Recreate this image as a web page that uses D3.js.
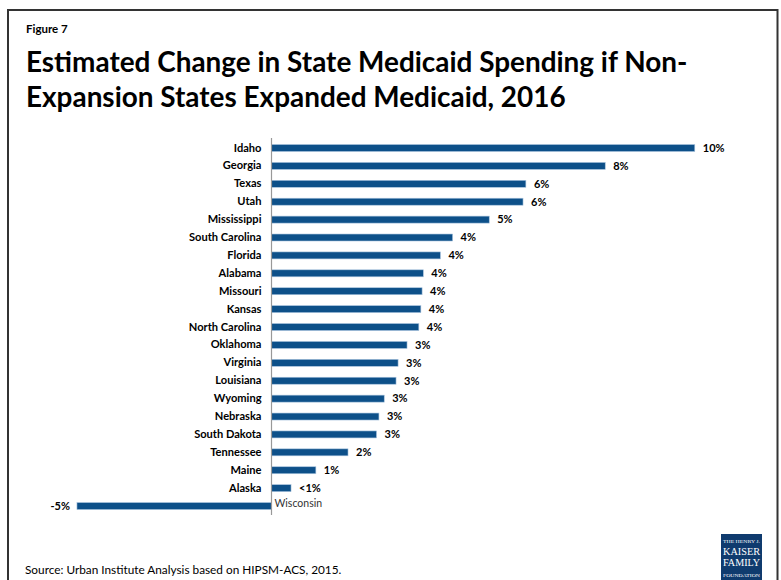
<!DOCTYPE html>
<html>
<head>
<meta charset="utf-8">
<script src="https://cdn.jsdelivr.net/npm/d3@7"></script>
<style>
  html, body { margin: 0; padding: 0; background: #fff; }
  svg { display: block; }
  text { font-family: Lato, "Open Sans", sans-serif; }
</style>
</head>
<body>
<div id="chart"></div>
<script>
const states = ["Idaho","Georgia","Texas","Utah","Mississippi","South Carolina","Florida","Alabama","Missouri","Kansas","North Carolina","Oklahoma","Virginia","Louisiana","Wyoming","Nebraska","South Dakota","Tennessee","Maine","Alaska","Wisconsin"];
const values = [10.4,8.2,6.25,6.18,5.35,4.45,4.15,3.73,3.70,3.67,3.62,3.33,3.11,3.06,2.77,2.64,2.58,1.88,1.09,0.48,-4.78];
const valueLabels = ["10%","8%","6%","6%","5%","4%","4%","4%","4%","4%","4%","3%","3%","3%","3%","3%","3%","2%","1%","<1%","-5%"];
const xDomain = [-6, 12];

const W = 781, H = 580;
const barColor = "#0d5089";

const svg = d3.select("#chart").append("svg").attr("width", W).attr("height", H);

// frame
svg.append("rect").attr("x", 8).attr("y", 10).attr("width", 769.5).attr("height", 600)
  .attr("fill", "none").attr("stroke", "#333").attr("stroke-width", 2);

// titles
svg.append("text").attr("x", 26).attr("y", 33).attr("font-size", 11.5).attr("font-weight", "bold").attr("fill", "#000").text("Figure 7");
const t1 = svg.append("text").attr("x", 26).attr("y", 72).attr("font-size", 26).attr("font-weight", "bold").attr("fill", "#000")
  .text("Estimated Change in State Medicaid Spending if Non-");
const t2 = svg.append("text").attr("x", 26).attr("y", 107).attr("font-size", 26).attr("font-weight", "bold").attr("fill", "#000")
  .text("Expansion States Expanded Medicaid, 2016");
const w1 = t1.node().getComputedTextLength();
const fs = 26 * 662 / w1;
t1.attr("font-size", fs); t2.attr("font-size", fs);

const x = d3.scaleLinear().domain(xDomain).range([271.5 - 6*40.7, 271.5 + 12*40.7]);
const y = d3.scaleBand().domain(states).range([139.05, 515]).paddingInner(0.61).paddingOuter(0.305);

const g = svg.append("g");

g.selectAll("rect.bar").data(states).join("rect").attr("class", "bar")
  .attr("x", (d,i) => Math.min(x(0), x(values[i])))
  .attr("width", (d,i) => Math.abs(x(values[i]) - x(0)))
  .attr("y", d => y(d))
  .attr("height", y.bandwidth())
  .attr("fill", barColor)
  .attr("stroke", "#a9c4de").attr("stroke-width", 0.6);

// axis
const yAxis = d3.axisLeft(y).tickSize(0).tickPadding(10);
const ag = svg.append("g").attr("transform", `translate(${x(0)},0)`).call(yAxis);
ag.select(".domain").attr("stroke", "#999").attr("stroke-width", 1.2)
  .attr("d", `M0,138V515`);
ag.selectAll(".tick").attr("transform", d => `translate(0,${y(d) + y.bandwidth()/2})`);
ag.selectAll(".tick text")
  .attr("font-family", "Lato, 'Open Sans', sans-serif")
  .attr("font-size", 11.1)
  .attr("font-weight", "bold")
  .attr("fill", "#000")
  .each(function(d) {
    const i = states.indexOf(d);
    if (values[i] < 0) {
      d3.select(this).attr("text-anchor", "start").attr("x", 3).attr("dy", "0.05em")
        .attr("font-weight", "normal").attr("fill", "#333").attr("font-size", 10.5);
    }
  });

// value labels
g.selectAll("text.val").data(states).join("text").attr("class", "val")
  .attr("x", (d,i) => values[i] >= 0 ? x(values[i]) + 8 : x(values[i]) - 7)
  .attr("y", d => y(d) + y.bandwidth()/2)
  .attr("dy", "0.35em")
  .attr("text-anchor", (d,i) => values[i] >= 0 ? "start" : "end")
  .attr("font-size", 11).attr("font-weight", "bold").attr("fill", "#000")
  .text((d,i) => valueLabels[i]);

// source
svg.append("text").attr("x", 25).attr("y", 574).attr("font-size", 11.8).attr("fill", "#000")
  .text("Source: Urban Institute Analysis based on HIPSM-ACS, 2015.");

// logo
const lg = svg.append("g").attr("transform", "translate(721,534)");
lg.append("rect").attr("width", 41).attr("height", 46).attr("fill", "#0f3b6e");
const lt = [["THE HENRY J.", 5, 8.5], ["KAISER", 10, 20.5], ["FAMILY", 10, 32], ["FOUNDATION", 4.2, 42.5]];
lg.selectAll("text").data(lt).join("text")
  .attr("x", 20.5).attr("y", d => d[2]).attr("text-anchor", "middle")
  .style("font-family", "'Liberation Serif', 'DejaVu Serif', serif")
  .attr("font-size", d => d[1]).attr("fill", "#fff")
  .attr("textLength", 37).attr("lengthAdjust", "spacingAndGlyphs")
  .text(d => d[0]);
</script>
</body>
</html>
